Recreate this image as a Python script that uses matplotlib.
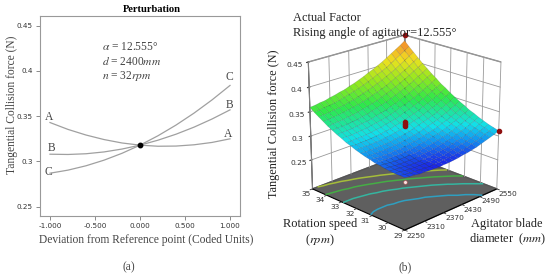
import numpy as np
import matplotlib
matplotlib.use("Agg")
import matplotlib.pyplot as plt
from matplotlib.colors import LinearSegmentedColormap, Normalize

# panel (a) perturbation curves
dev = [-1.0, -0.8, -0.6, -0.4, -0.2, 0.0, 0.2, 0.4, 0.6, 0.8, 1.0]
curve_a = [0.343, 0.3354, 0.3292, 0.3242, 0.3204, 0.318, 0.3168, 0.317, 0.3184, 0.321, 0.325]
curve_b = [0.308, 0.3077, 0.3085, 0.3105, 0.3137, 0.318, 0.3235, 0.3301, 0.3379, 0.3469, 0.357]
curve_c = [0.287, 0.2904, 0.2952, 0.3014, 0.309, 0.318, 0.3284, 0.3402, 0.3534, 0.368, 0.384]
dev_ticks = [-1.0, -0.5, 0.0, 0.5, 1.0]
force_ticks = [0.25, 0.3, 0.35, 0.4, 0.45]
force_labels = ["0.25", "0.3", "0.35", "0.4", "0.45"]

# panel (b) response surface, rows are rotation speed, columns are blade diameter
diam = [2250, 2265, 2280, 2295, 2310, 2325, 2340, 2355, 2370, 2385, 2400,
        2415, 2430, 2445, 2460, 2475, 2490, 2505, 2520, 2535, 2550]
speed = [29.0, 29.3, 29.6, 29.9, 30.2, 30.5, 30.8, 31.1, 31.4, 31.7, 32.0,
         32.3, 32.6, 32.9, 33.2, 33.5, 33.8, 34.1, 34.4, 34.7, 35.0]
force = [
    [.292, .290, .289, .287, .287, .286, .286, .285, .286, .286, .287, .288, .290, .291, .293, .295, .298, .301, .304, .307, .311],
    [.292, .290, .289, .288, .287, .287, .286, .287, .287, .288, .289, .290, .291, .293, .295, .298, .300, .303, .307, .310, .314],
    [.292, .291, .290, .289, .288, .288, .288, .288, .289, .289, .290, .292, .294, .296, .298, .300, .303, .306, .310, .314, .317],
    [.293, .292, .291, .290, .289, .289, .289, .290, .290, .291, .293, .294, .296, .298, .301, .303, .306, .310, .313, .317, .321],
    [.294, .293, .292, .291, .291, .291, .291, .292, .293, .294, .295, .297, .299, .301, .304, .307, .310, .313, .317, .321, .325],
    [.296, .295, .294, .293, .293, .293, .294, .294, .295, .297, .298, .300, .302, .305, .307, .310, .314, .317, .321, .325, .330],
    [.297, .297, .296, .296, .296, .296, .296, .297, .298, .300, .301, .304, .306, .308, .311, .314, .318, .322, .326, .330, .334],
    [.300, .299, .298, .298, .298, .299, .299, .300, .302, .303, .305, .307, .310, .312, .315, .319, .322, .326, .330, .335, .340],
    [.302, .301, .301, .301, .301, .302, .303, .304, .305, .307, .309, .311, .314, .317, .320, .323, .327, .331, .336, .340, .345],
    [.305, .304, .304, .304, .305, .305, .306, .308, .309, .311, .313, .316, .319, .322, .325, .328, .332, .337, .341, .346, .351],
    [.308, .308, .308, .308, .309, .309, .311, .312, .314, .316, .318, .321, .324, .327, .330, .334, .338, .342, .347, .352, .357],
    [.312, .311, .312, .312, .313, .314, .315, .317, .318, .321, .323, .326, .329, .332, .336, .340, .344, .348, .353, .358, .364],
    [.315, .315, .316, .316, .317, .318, .320, .321, .324, .326, .328, .331, .335, .338, .342, .346, .350, .355, .360, .365, .370],
    [.320, .320, .320, .321, .322, .323, .325, .327, .329, .331, .334, .337, .341, .344, .348, .352, .357, .362, .367, .372, .378],
    [.324, .325, .325, .326, .327, .329, .330, .332, .335, .337, .340, .344, .347, .351, .355, .359, .364, .369, .374, .380, .385],
    [.329, .330, .330, .331, .333, .334, .336, .338, .341, .344, .347, .350, .354, .358, .362, .366, .371, .376, .382, .387, .393],
    [.334, .335, .336, .337, .339, .340, .342, .345, .347, .350, .353, .357, .361, .365, .369, .374, .379, .384, .390, .395, .401],
    [.340, .341, .342, .343, .345, .347, .349, .351, .354, .357, .361, .364, .368, .372, .377, .382, .387, .392, .398, .404, .410],
    [.346, .347, .348, .350, .351, .353, .356, .358, .361, .365, .368, .372, .376, .380, .385, .390, .395, .401, .407, .413, .419],
    [.352, .353, .355, .356, .358, .360, .363, .366, .369, .372, .376, .380, .384, .389, .393, .398, .404, .410, .416, .422, .428],
    [.359, .360, .362, .363, .366, .368, .371, .373, .377, .380, .384, .388, .393, .397, .402, .407, .413, .419, .425, .431, .438],
]
diam_ticks = [2250, 2310, 2370, 2430, 2490, 2550]
speed_ticks = [29, 30, 31, 32, 33, 34, 35]
z_ticks = [0.25, 0.3, 0.35, 0.4, 0.45]
contour_levels = [0.30, 0.32, 0.34, 0.36]
contour_colors = ["#2f9fc0", "#35b5a0", "#45ad45", "#a5bd3a"]
above_d = [2550, 2550, 2400, 2400, 2400]
above_n = [35, 29, 32, 32, 32]
above_f = [0.45, 0.311, 0.32, 0.325, 0.33]
below_d = [2250]
below_n = [29]
below_f = [0.284]

SERIF = "Liberation Serif"
plt.rcParams["mathtext.fontset"] = "stix"

fig = plt.figure(figsize=(5.5, 2.79), dpi=100)
W, H = 550.0, 279.0


def fig_text(x, y, s, **kwargs):
    kwargs.setdefault("family", SERIF)
    kwargs.setdefault("color", "#222222")
    kwargs.setdefault("va", "center")
    fig.text(x / W, 1 - y / H, s, **kwargs)


# (a)
ax = fig.add_axes([40 / W, 1 - 216 / H, 200 / W, 200.5 / H])
ax.plot(dev, curve_a, color="#a0a0a0", lw=0.9)
ax.plot(dev, curve_b, color="#a0a0a0", lw=0.9)
ax.plot(dev, curve_c, color="#a0a0a0", lw=0.9)
ax.plot([0], [0.318], "o", color="black", ms=3.2)
ax.set_xlim(-1.111, 1.111)
ax.set_ylim(0.2397, 0.4613)
ax.set_xticks(dev_ticks, ["%.3f" % v for v in dev_ticks])
ax.set_yticks(force_ticks, force_labels)
ax.tick_params(labelsize=5.2, length=3, width=0.6, color="#777777", labelcolor="#333333", pad=2)
for s in ax.spines.values():
    s.set_color("#999999")
    s.set_linewidth(0.8)
for x, y, s in [(49.5, 117, "A"), (228.5, 134, "A"), (51.5, 148, "B"), (229, 105, "B"),
                (48.5, 172, "C"), (229, 77, "C")]:
    fig_text(x, y, s, fontsize=8.3, ha="center", color="#444444")
fig_text(152, 10, "Perturbation", fontsize=7.6, ha="center", weight="bold", color="black")
fig_text(102, 47, r"$\alpha$ = 12.555°", fontsize=8.3, color="#444444")
fig_text(102, 62, r"$d$ = 2400$mm$", fontsize=8.3, color="#444444")
fig_text(102, 76, r"$n$ = 32$rpm$", fontsize=8.3, color="#444444")
fig_text(146, 239.5, "Deviation from Reference point (Coded Units)", fontsize=8.3, ha="center", color="#444444")
fig_text(12, 105, "Tangential Collision force (N)", fontsize=8.3, ha="center", rotation=90, color="#444444")
fig_text(129, 267, "(a)", fontsize=8.3, ha="center", color="#444444")

# (b)
ax3 = fig.add_axes([266 / W, 8.5 / H, 270 / W, 280 / H], projection="3d", computed_zorder=False)
ax3.patch.set_alpha(0)
D, N = np.meshgrid(diam, speed)
Z = np.array(force)
zfloor, ztop = 0.188, 0.45
cmap = LinearSegmentedColormap.from_list(
    "rsm", [(0, "#1c22e6"), (0.1, "#1290f0"), (0.2, "#12e0ea"), (0.42, "#2ee84a"),
            (0.6, "#90e820"), (0.8, "#f0e020"), (1, "#f57a30")])
norm = Normalize(0.285, 0.44)

ax3.grid(False)
for a in (ax3.xaxis, ax3.yaxis):
    a.set_pane_color((1, 1, 1, 1))
    a.pane.set_edgecolor("#888888")
ax3.zaxis.set_pane_color("#5f5f5f")
ax3.zaxis.pane.set_edgecolor("#555555")

for d in diam_ticks:
    ax3.plot([d, d], [35, 35], [zfloor, ztop], color="#999999", lw=0.6, zorder=1)
for n in speed_ticks:
    ax3.plot([2550, 2550], [n, n], [zfloor, ztop], color="#999999", lw=0.6, zorder=1)
for z in z_ticks:
    ax3.plot([2250, 2550], [35, 35], [z, z], color="#999999", lw=0.6, zorder=1)
    ax3.plot([2550, 2550], [29, 35], [z, z], color="#999999", lw=0.6, zorder=1)
ax3.contour(D, N, Z, levels=contour_levels, colors=contour_colors, zdir="z", offset=zfloor,
            linewidths=1.1, zorder=1.5)
ax3.plot_surface(D, N, Z, rstride=1, cstride=1, cmap=cmap, norm=norm, shade=False,
                 edgecolor=(0.1, 0.1, 0.2, 0.25), linewidth=0.3, antialiased=True, zorder=2)
ax3.scatter(above_d, above_n, above_f, color="#8e0f0f", s=9, depthshade=False, zorder=3)
ax3.scatter(below_d, below_n, below_f, color="#f8e0e0", edgecolor="#c04040", linewidths=0.3, s=7,
            depthshade=False, zorder=3)

ax3.set_xlim(2250, 2550)
ax3.set_ylim(29, 35)
ax3.set_zlim(zfloor, ztop)
# native labels land too far below the floor edges, so ticks and labels are placed by hand
ax3.set_xticks([])
ax3.set_yticks([])
ax3.set_zticks(z_ticks, force_labels)
ax3.tick_params(labelsize=5.4, colors="#333333", length=2)
ax3.tick_params(axis="z", pad=-1)
for d in diam_ticks:
    ax3.plot([d, d], [29, 28.85], [zfloor, zfloor], color="#333333", lw=0.6, zorder=4)
    ax3.text(d - 2, 28.3, zfloor, str(d), fontsize=5.4, color="#333333", ha="center", va="center", zorder=4)
for n in speed_ticks:
    ax3.plot([2250, 2243], [n, n], [zfloor, zfloor], color="#333333", lw=0.6, zorder=4)
    ax3.text(2221, n - 0.2, zfloor, str(n), fontsize=5.4, color="#333333", ha="center", va="center", zorder=4)
ax3.view_init(elev=21, azim=-135)
ax3.set_proj_type("persp", focal_length=0.75)
ax3.set_box_aspect((1, 1, 1.02), zoom=0.835)

fig_text(293, 18, "Actual Factor", fontsize=8.9)
fig_text(293, 33, "Rising angle of agitator=12.555°", fontsize=8.9)
fig_text(274, 124, "Tangential Collision force (N)", fontsize=8.8, ha="center", rotation=90)
fig_text(320, 224, "Rotation speed", fontsize=8.9, ha="center")
fig_text(320, 240, r"($rpm$)", fontsize=8.9, ha="center")
fig_text(507, 224, "Agitator blade", fontsize=8.9, ha="center")
fig_text(507, 239, r"diameter  ($mm$)", fontsize=8.9, ha="center")
fig_text(405, 267, "(b)", fontsize=8.3, ha="center", color="#444444")

fig.savefig("out.png", dpi=100)
